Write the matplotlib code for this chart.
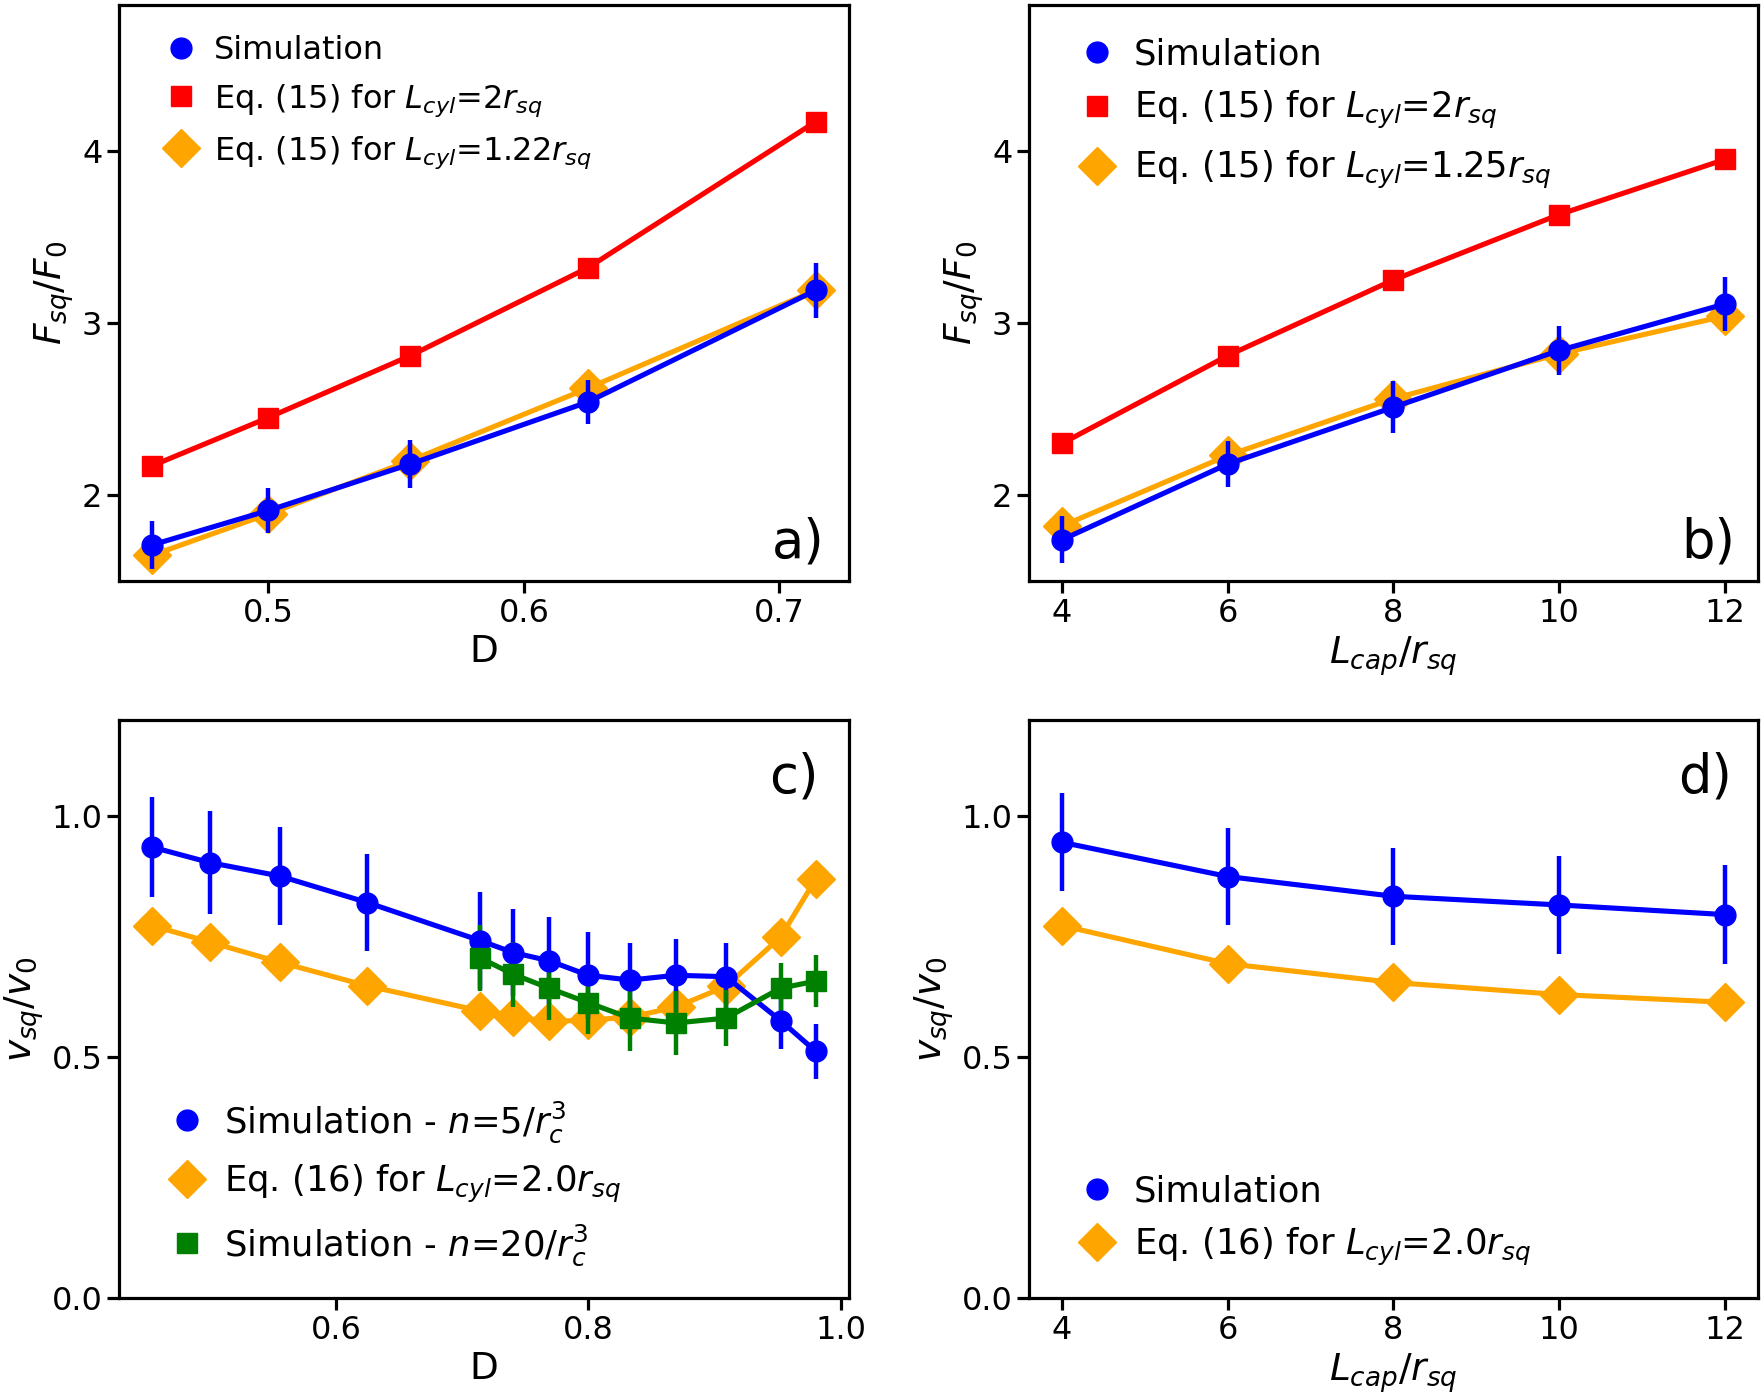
import matplotlib
matplotlib.use("Agg")
import matplotlib.pyplot as plt
from matplotlib.lines import Line2D

# ---- data ----
D_a = [0.4545, 0.5, 0.5556, 0.625, 0.7143]
Fa_sim = [1.71, 1.91, 2.18, 2.54, 3.19]
Fa_err = [0.14, 0.13, 0.14, 0.13, 0.16]
Fa_eq2 = [2.17, 2.45, 2.81, 3.32, 4.17]
Fa_eq122 = [1.65, 1.89, 2.20, 2.62, 3.19]

Lcap = [4, 6, 8, 10, 12]
Fb_sim = [1.74, 2.18, 2.51, 2.84, 3.11]
Fb_err = [0.135, 0.135, 0.15, 0.14, 0.155]
Fb_eq2 = [2.30, 2.81, 3.25, 3.63, 3.95]
Fb_eq125 = [1.82, 2.23, 2.56, 2.82, 3.04]

D_c = [0.4545, 0.5, 0.5556, 0.625, 0.7143, 0.7407, 0.7692, 0.8, 0.8333,
       0.8696, 0.9091, 0.9524, 0.9804]
vc_sim5 = [0.936, 0.904, 0.876, 0.821, 0.742, 0.717, 0.700, 0.670, 0.660,
           0.670, 0.667, 0.576, 0.512]
vc_err5 = [0.104, 0.107, 0.101, 0.101, 0.101, 0.091, 0.09, 0.09, 0.078,
           0.076, 0.071, 0.06, 0.057]
vc_eq16 = [0.773, 0.739, 0.697, 0.648, 0.596, 0.584, 0.574, 0.577, 0.583,
           0.604, 0.647, 0.749, 0.870]
D_c20 = [0.7143, 0.7407, 0.7692, 0.8, 0.8333, 0.8696, 0.9091, 0.9524, 0.9804]
vc_sim20 = [0.706, 0.672, 0.643, 0.613, 0.581, 0.571, 0.581, 0.643, 0.658]
vc_err20 = [0.069, 0.068, 0.065, 0.064, 0.069, 0.067, 0.058, 0.052, 0.054]

vd_sim = [0.946, 0.875, 0.834, 0.816, 0.796]
vd_err = [0.102, 0.101, 0.101, 0.101, 0.102]
vd_eq16 = [0.773, 0.694, 0.655, 0.630, 0.614]

# ---- style ----
plt.rcParams['font.family'] = ['DejaVu Sans']
plt.rcParams['mathtext.fontset'] = 'dejavusans'
LW = 3.7
MS = 15      # circles / squares
MSD = 19.5   # diamonds
ELW = 3.2
TICK = 23
LAB = 27
LEG = 25.5

fig = plt.figure(figsize=(17.64, 13.94), dpi=100)
ax_a = fig.add_axes([0.0675, 0.5832, 0.4138, 0.4135])
ax_b = fig.add_axes([0.5833, 0.5832, 0.4133, 0.4135])
ax_c = fig.add_axes([0.0675, 0.0689, 0.4138, 0.4146])
ax_d = fig.add_axes([0.5833, 0.0689, 0.4133, 0.4146])


def style(ax):
    for s in ax.spines.values():
        s.set_linewidth(2.3)
    ax.tick_params(axis='both', which='major', direction='out', length=8.5,
                   width=2.3, labelsize=TICK, top=False, right=False)


def sim(ax, x, y, e, color, marker, ms=MS):
    ax.errorbar(x, y, yerr=e, color=color, lw=LW, elinewidth=ELW, capsize=0,
                marker=marker, ms=ms, zorder=4)


def eq(ax, x, y, color, marker, ms, z=3):
    ax.plot(x, y, color=color, lw=LW, marker=marker, ms=ms, zorder=z)


def handle(color, marker, ms):
    return Line2D([], [], color=color, marker=marker, ms=ms, linestyle='none')


def legend(ax, handles, labels, loc, anchor, size):
    ax.legend(handles, labels, loc=loc, bbox_to_anchor=anchor, frameon=False,
              fontsize=size, handlelength=1.0, handletextpad=0.55,
              labelspacing=0.5)


# ---- a) ----
eq(ax_a, D_a, Fa_eq2, 'red', 's', MS)
eq(ax_a, D_a, Fa_eq122, 'orange', 'D', MSD)
sim(ax_a, D_a, Fa_sim, Fa_err, 'blue', 'o')
ax_a.set_ylim(1.5, 4.85)
ax_a.set_xticks([0.5, 0.6, 0.7])
ax_a.set_yticks([2, 3, 4])
ax_a.set_xlabel('D', fontsize=LAB)
ax_a.set_ylabel('$F_{sq}/F_0$', fontsize=LAB)
legend(ax_a, [handle('blue', 'o', MS), handle('red', 's', MS), handle('orange', 'D', MSD)],
       ['Simulation', 'Eq. (15) for $L_{cyl}$=2$r_{sq}$',
        'Eq. (15) for $L_{cyl}$=1.22$r_{sq}$'],
       'upper left', (0.023, 0.997), 23)
ax_a.text(0.895, 0.04, 'a)', transform=ax_a.transAxes, fontsize=38)
style(ax_a)

# ---- b) ----
eq(ax_b, Lcap, Fb_eq2, 'red', 's', MS)
eq(ax_b, Lcap, Fb_eq125, 'orange', 'D', MSD)
sim(ax_b, Lcap, Fb_sim, Fb_err, 'blue', 'o')
ax_b.set_ylim(1.5, 4.85)
ax_b.set_xticks(Lcap)
ax_b.set_yticks([2, 3, 4])
ax_b.set_xlabel('$L_{cap}/r_{sq}$', fontsize=LAB)
ax_b.set_ylabel('$F_{sq}/F_0$', fontsize=LAB)
legend(ax_b, [handle('blue', 'o', MS), handle('red', 's', MS), handle('orange', 'D', MSD)],
       ['Simulation', 'Eq. (15) for $L_{cyl}$=2$r_{sq}$',
        'Eq. (15) for $L_{cyl}$=1.25$r_{sq}$'],
       'upper left', (0.025, 0.998), LEG)
ax_b.text(0.895, 0.04, 'b)', transform=ax_b.transAxes, fontsize=38)
style(ax_b)

# ---- c) ----
eq(ax_c, D_c, vc_eq16, 'orange', 'D', MSD)
sim(ax_c, D_c, vc_sim5, vc_err5, 'blue', 'o')
sim(ax_c, D_c20, vc_sim20, vc_err20, 'green', 's')
ax_c.set_ylim(0, 1.2)
ax_c.set_xticks([0.6, 0.8, 1.0])
ax_c.set_yticks([0.0, 0.5, 1.0])
ax_c.set_xlabel('D', fontsize=LAB)
ax_c.set_ylabel('$v_{sq}/v_0$', fontsize=LAB)
legend(ax_c, [handle('blue', 'o', MS), handle('orange', 'D', MSD), handle('green', 's', MS)],
       ['Simulation - $n$=5/$r_c^3$', 'Eq. (16) for $L_{cyl}$=2.0$r_{sq}$',
        'Simulation - $n$=20/$r_c^3$'],
       'lower left', (0.025, -0.003), LEG)
ax_c.text(0.89, 0.875, 'c)', transform=ax_c.transAxes, fontsize=38)
style(ax_c)

# ---- d) ----
eq(ax_d, Lcap, vd_eq16, 'orange', 'D', MSD)
sim(ax_d, Lcap, vd_sim, vd_err, 'blue', 'o')
ax_d.set_ylim(0, 1.2)
ax_d.set_xticks(Lcap)
ax_d.set_yticks([0.0, 0.5, 1.0])
ax_d.set_xlabel('$L_{cap}/r_{sq}$', fontsize=LAB)
ax_d.set_ylabel('$v_{sq}/v_0$', fontsize=LAB)
legend(ax_d, [handle('blue', 'o', MS), handle('orange', 'D', MSD)],
       ['Simulation', 'Eq. (16) for $L_{cyl}$=2.0$r_{sq}$'],
       'lower left', (0.025, -0.003), LEG)
ax_d.text(0.89, 0.875, 'd)', transform=ax_d.transAxes, fontsize=38)
style(ax_d)

fig.savefig('out.png', dpi=100)
